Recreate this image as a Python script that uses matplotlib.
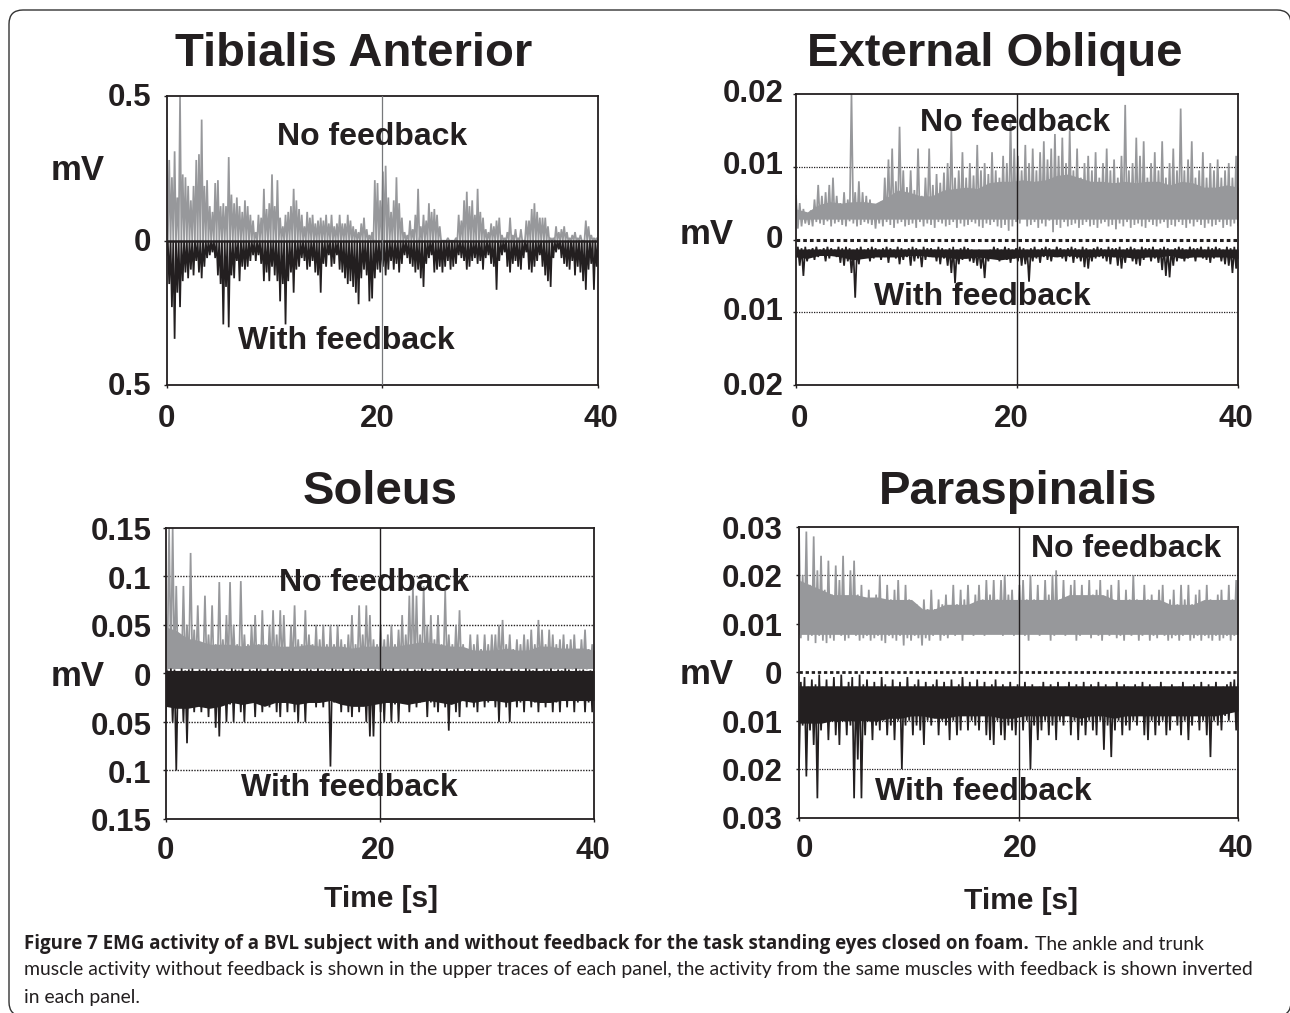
import numpy as np
import matplotlib
matplotlib.use('Agg')
import matplotlib.pyplot as plt
from matplotlib.patches import FancyBboxPatch
from matplotlib.transforms import ScaledTranslation, IdentityTransform

W, H = 1290, 1013
GRAY = '#97989b'
BLACK = '#231f20'

plt.rcParams['font.family'] = ['Liberation Sans', 'DejaVu Sans']

# each trace swings between high and low, read in mV along 0-40 s. Inverted traces are kept positive
ta_none_high = [.39,.28,.22,.31,.15,.50,.23,.22,.19,.14,.19,.28,.30,.42,.19,.21,.12,.10,.20,.21,
    .12,.13,.12,.29,.16,.13,.15,.12,.10,.14,.12,.09,.07,.03,.09,.08,.18,.11,.13,.23,
    .12,.21,.08,.05,.09,.10,.12,.18,.14,.11,.09,.05,.10,.08,.09,.06,.07,.08,.07,.09,
    .06,.09,.05,.06,.09,.06,.06,.09,.07,.05,.04,.03,.06,.08,.04,.02,.03,.21,.20,.14,
    .24,.26,.15,.10,.14,.22,.13,.08,.03,.02,.07,.04,.09,.18,.05,.09,.07,.13,.10,.11,
    .09,.05,.00,.00,.01,.00,.00,.01,.09,.07,.14,.17,.12,.14,.09,.18,.10,.08,.04,.03,
    .06,.05,.07,.08,.02,.01,.03,.08,.02,.04,.01,.04,.00,.07,.07,.11,.13,.10,.08,.08,
    .08,.05,.01,.01,.05,.03,.04,.05,.03,.01,.02,.03,.01,.02,.00,.07,.05,.02,.01,.01]
ta_none_low = [0] * 160
ta_with_high = [.05,.15,.23,.34,.18,.23,.14,.11,.13,.10,.12,.07,.11,.13,.09,.06,.05,.04,.06,.12,
    .15,.29,.16,.30,.12,.13,.07,.14,.09,.10,.09,.07,.05,.07,.05,.08,.14,.11,.14,.09,
    .12,.14,.21,.15,.29,.14,.11,.18,.10,.09,.06,.07,.10,.09,.07,.11,.12,.18,.08,.09,
    .05,.09,.08,.05,.10,.11,.13,.15,.14,.16,.18,.22,.13,.10,.12,.21,.20,.13,.10,.11,
    .09,.12,.10,.07,.10,.08,.11,.08,.05,.06,.08,.09,.11,.10,.13,.16,.08,.06,.05,.11,
    .10,.09,.11,.09,.07,.10,.09,.08,.05,.06,.07,.10,.09,.07,.06,.08,.07,.10,.06,.05,
    .08,.09,.17,.07,.05,.04,.09,.11,.08,.07,.09,.10,.06,.04,.10,.11,.09,.07,.05,.09,
    .12,.14,.16,.06,.04,.03,.06,.08,.09,.10,.07,.12,.09,.11,.14,.17,.10,.08,.17,.09]
ta_with_low = [0] * 160

eo_none_high = [.006,.005,.0042,.0035,.004,.0055,.0075,.006,.0065,.0075,.0085,.006,.005,.0065,.0055,.020,.0065,.008,.0065,.006,
    .0055,.0048,.0045,.0052,.0085,.011,.0125,.008,.0155,.0095,.0072,.0095,.0068,.0125,.006,.0085,.0125,.0075,.009,.0078,
    .0092,.0105,.015,.0085,.0095,.012,.0085,.0105,.0088,.013,.0095,.0105,.009,.012,.0095,.0085,.0115,.0105,.0165,.0125,
    .0115,.0095,.013,.0105,.0125,.0095,.012,.0135,.011,.0125,.0145,.0115,.014,.0105,.015,.0095,.0125,.0085,.0105,.0115,
    .0095,.012,.0085,.0105,.0125,.0095,.011,.0085,.0115,.0185,.0095,.0105,.014,.0115,.0135,.0085,.0105,.012,.0095,.0135,
    .0085,.0105,.0125,.0095,.018,.0095,.011,.0135,.0085,.0095,.012,.0085,.0105,.0095,.011,.0085,.0095,.0105,.0085,.0115]
eo_none_low = [.0015,.0018,.0022,.0020,.0018,.0024,.0022,.0020,.0025,.0018,.0022,.0024,.0020,.0018,.0025,.0022,.0018,.0020,.0024,.0022,
    .0020,.0015,.0022,.0018,.0024,.0020,.0016,.0022,.0024,.0018,.0020,.0022,.0016,.0024,.0018,.0022,.0020,.0016,.0024,.0022,
    .0018,.0020,.0024,.0016,.0022,.0018,.0020,.0024,.0022,.0018,.0016,.0022,.0020,.0024,.0018,.0016,.0020,.0012,.0018,.0024,
    .0022,.0030,.0018,.0020,.0024,.0016,.0022,.0018,.0026,.0010,.0020,.0016,.0024,.0018,.0020,.0022,.0016,.0020,.0024,.0018,
    .0020,.0016,.0022,.0024,.0018,.0020,.0014,.0022,.0018,.0024,.0016,.0020,.0022,.0018,.0016,.0024,.0020,.0018,.0022,.0024,
    .0016,.0020,.0018,.0024,.0020,.0016,.0022,.0018,.0024,.0020,.0016,.0022,.0018,.0020,.0024,.0016,.0020,.0018,.0022,.0020]
eo_none_body = [.0042,.0038,.0048,.0052,.005,.0052,.0052,.005,.0058,.0068,.0065,.006,.006,.0068,.007,.0072,.007,.0078,.008,.008,
    .0082,.008,.0082,.0088,.009,.0085,.008,.008,.0078,.008,.0078,.008,.008,.0075,.008,.0078,.0072,.0072,.0075,.0072]
eo_none_under = .0028
eo_with_high = [.0024,.0036,.0050,.0030,.0020,.0028,.0024,.0022,.0030,.0026,.0020,.0024,.0032,.0036,.0030,.0046,.0080,.0034,
    .0026,.0022,.0030,.0026,.0022,.0028,.0024,.0032,.0022,.0026,.0034,.0028,.0024,.0036,.0030,.0026,.0038,.0028,
    .0024,.0022,.0030,.0034,.0026,.0036,.0046,.0060,.0034,.0028,.0024,.0030,.0032,.0036,.0040,.0053,.0030,.0024,
    .0026,.0030,.0024,.0028,.0032,.0026,.0030,.0036,.0034,.0058,.0030,.0026,.0032,.0024,.0028,.0030,.0024,.0022,
    .0026,.0030,.0024,.0032,.0026,.0030,.0038,.0040,.0030,.0026,.0024,.0026,.0030,.0034,.0024,.0036,.0040,.0032,
    .0024,.0030,.0034,.0036,.0028,.0024,.0030,.0026,.0032,.0042,.0050,.0052,.0036,.0030,.0024,.0030,.0026,.0024,
    .0030,.0022,.0026,.0028,.0032,.0026,.0024,.0030,.0034,.0036,.0046,.0040]
eo_with_low = [.0010,.0012,.0010,.0014,.0012,.0010,.0014,.0012,.0010,.0012,.0014,.0010,.0012,.0010,.0012,.0014,.0012,.0010,
    .0014,.0012,.0010,.0012,.0014,.0012,.0010,.0012,.0014,.0010,.0012,.0014,.0012,.0010,.0012,.0014,.0010,.0012,
    .0012,.0014,.0010,.0012,.0014,.0012,.0010,.0014,.0012,.0010,.0012,.0014,.0016,.0014,.0018,.0016,.0014,.0010,
    .0012,.0014,.0010,.0012,.0014,.0012,.0010,.0012,.0014,.0012,.0010,.0014,.0012,.0010,.0012,.0014,.0010,.0012,
    .0014,.0012,.0010,.0012,.0014,.0010,.0012,.0014,.0012,.0010,.0012,.0014,.0010,.0012,.0012,.0010,.0014,.0012,
    .0010,.0012,.0014,.0010,.0012,.0012,.0010,.0014,.0012,.0010,.0012,.0014,.0012,.0010,.0012,.0014,.0010,.0012,
    .0012,.0010,.0014,.0010,.0012,.0010,.0012,.0014,.0010,.0012,.0010,.0012]
eo_with_body = [.0024,.0026,.0022,.0022,.0024,.0028,.0026,.0024,.0024,.0024,.0022,.0022,.0024,.0024,.0026,.0026,.0024,.0026,.0028,.0026,
    .0024,.0024,.0022,.0024,.0022,.0024,.0024,.0022,.0024,.0024,.0026,.0024,.0024,.0022,.0026,.0024,.0024,.0024,.0024,.0026]
eo_with_under = .0013

so_none_high = [.06,.15,.15,.09,.04,.09,.05,.124,.045,.07,.03,.08,.04,.07,.03,.094,.035,.06,.094,.05,.03,.095,.04,.03,
    .05,.06,.03,.065,.03,.05,.065,.04,.065,.06,.025,.05,.07,.035,.03,.065,.04,.03,.05,.035,.05,.03,.05,.03,
    .05,.035,.03,.04,.06,.03,.07,.04,.07,.06,.035,.03,.05,.035,.04,.05,.03,.045,.06,.04,.08,.09,.08,.04,
    .09,.05,.06,.035,.06,.03,.085,.04,.03,.05,.065,.03,.025,.04,.03,.04,.025,.04,.03,.04,.04,.05,.055,.03,
    .04,.025,.035,.03,.04,.035,.045,.03,.055,.045,.03,.045,.04,.03,.035,.04,.03,.035,.04,.025,.035,.045,.025,.03]
so_none_low = [.003,.005,.006,.005,.006,.005,.004,.006,.005,.004,.005,.006,.005,.004,.006,.005,.005,.004,.006,.005,.004,.005,.006,.004,
    .005,.006,.004,.005,.006,.005,.004,.005,.006,.005,.004,.006,.005,.004,.005,.006,.005,.004,.005,.006,.005,.004,.006,.005,
    .004,.005,.006,.005,.004,.005,.006,.004,.005,.006,.005,.004,.006,.005,.004,.005,.006,.005,.004,.005,.006,.005,.004,.006,
    .005,.004,.005,.006,.004,.005,.006,.005,.004,.005,.006,.004,.005,.004,.006,.005,.004,.005,.004,.006,.005,.004,.005,.006,
    .004,.005,.004,.006,.005,.004,.005,.004,.006,.005,.004,.005,.004,.006,.005,.004,.005,.004,.005,.004,.006,.004,.005,.004]
so_none_body = [.048,.044,.036,.034,.030,.030,.030,.028,.030,.030,.028,.028,.028,.030,.028,.028,.028,.026,.028,.028,
    .028,.028,.030,.032,.032,.030,.028,.028,.024,.024,.024,.026,.024,.024,.028,.028,.026,.026,.026,.024]
so_none_under = .005
so_with_high = [.05,.03,.05,.10,.035,.05,.072,.03,.04,.028,.04,.03,.045,.032,.056,.065,.03,.05,.032,.05,.03,.04,.05,.03,
    .028,.045,.03,.04,.028,.035,.03,.04,.045,.028,.04,.03,.04,.05,.03,.05,.03,.026,.035,.028,.035,.026,.096,.03,
    .03,.04,.028,.04,.045,.03,.04,.03,.05,.065,.065,.03,.04,.05,.03,.05,.032,.05,.03,.028,.04,.03,.035,.03,
    .028,.045,.03,.035,.04,.028,.035,.059,.03,.04,.045,.028,.035,.026,.035,.04,.028,.035,.03,.026,.035,.05,.028,.035,
    .05,.026,.035,.03,.04,.028,.035,.03,.04,.028,.035,.03,.04,.03,.04,.028,.035,.028,.04,.03,.028,.04,.03,.04]
so_with_low = [-.003,-.005,-.004,-.002,-.005,-.003,-.004,-.005,-.002,-.004,-.003,-.005,-.004,-.002,-.005,-.003,-.004,-.002,-.005,-.004,-.003,-.005,-.002,-.004,
    -.003,-.005,-.004,-.002,-.005,-.003,-.004,-.002,-.005,-.003,-.004,-.005,-.002,-.004,-.003,-.005,-.004,-.002,-.005,-.003,-.004,-.002,-.005,-.004,
    -.003,-.005,-.002,-.004,-.005,-.003,-.004,-.002,-.005,-.003,-.004,-.002,-.005,-.004,-.003,-.005,-.002,-.004,-.003,-.005,-.002,-.004,-.003,-.005,
    -.004,-.002,-.005,-.003,-.004,-.002,-.005,-.003,-.004,-.005,-.002,-.004,-.003,-.005,-.002,-.004,-.003,-.005,-.004,-.002,-.005,-.003,-.004,-.002,
    -.005,-.003,-.004,-.002,-.005,-.004,-.003,-.005,-.002,-.004,-.003,-.005,-.002,-.004,-.003,-.005,-.004,-.002,-.005,-.003,-.004,-.002,-.003,-.004]
so_with_body = [.034,.036,.036,.034,.036,.034,.030,.032,.030,.034,.030,.030,.032,.030,.030,.028,.032,.034,.034,.032,
    .030,.030,.032,.030,.028,.030,.032,.028,.030,.028,.028,.030,.028,.028,.030,.030,.028,.028,.028,.028]
so_with_under = -.003

pa_none_high = [.030,.020,.029,.018,.028,.021,.024,.017,.023,.016,.022,.019,.024,.015,.021,.023,.016,.018,
    .014,.017,.015,.016,.020,.014,.018,.015,.017,.019,.014,.018,.015,.013,.014,.012,.015,.013,
    .017,.013,.015,.014,.016,.013,.018,.014,.017,.015,.018,.014,.016,.018,.015,.019,.016,.019,
    .015,.019,.020,.016,.017,.014,.018,.019,.015,.020,.015,.018,.014,.019,.016,.020,.021,.015,
    .019,.015,.018,.019,.015,.018,.014,.019,.016,.017,.019,.014,.017,.018,.014,.019,.014,.017,
    .015,.020,.015,.014,.018,.015,.016,.014,.017,.018,.014,.015,.017,.014,.018,.015,.018,.014,
    .016,.017,.014,.018,.015,.014,.016,.017,.014,.018,.015,.019]
pa_none_low = [.007,.008,.0065,.0075,.006,.0075,.0065,.006,.007,.0065,.008,.0075,.0065,.007,.008,.0075,.0065,.007,
    .0075,.0065,.007,.0075,.0065,.006,.0075,.007,.0065,.0075,.0055,.007,.0065,.0075,.007,.0055,.007,.0065,
    .0075,.0085,.0065,.0075,.007,.0085,.0075,.008,.0065,.008,.0085,.0075,.0085,.008,.0075,.009,.0085,.008,
    .0085,.0075,.009,.0085,.0075,.008,.0085,.0075,.0065,.008,.0085,.0075,.008,.0085,.0065,.0075,.008,.0085,
    .0075,.0085,.008,.0065,.0075,.008,.0085,.007,.008,.0075,.0065,.008,.0075,.0085,.007,.0075,.0065,.008,
    .0075,.0085,.0065,.0075,.008,.0065,.0075,.007,.008,.0075,.0065,.007,.0075,.0065,.0075,.008,.0065,.007,
    .0075,.0065,.0075,.007,.0065,.0075,.0065,.007,.0075,.0065,.0075,.008]
pa_none_body = [.019,.018,.017,.016,.016,.016,.0155,.0155,.015,.015,.015,.013,.013,.014,.014,.014,.015,.015,.015,.015,
    .015,.015,.015,.015,.016,.016,.016,.016,.015,.015,.015,.015,.015,.014,.014,.014,.015,.015,.015,.015]
pa_none_under = .0078
pa_with_high = [.0195,.011,.0215,.012,.015,.026,.012,.010,.014,.010,.013,.015,.010,.013,.011,.026,.018,.026,
    .013,.010,.014,.011,.012,.010,.013,.011,.014,.010,.020,.011,.010,.013,.011,.012,.015,.010,
    .011,.009,.013,.010,.011,.014,.010,.013,.012,.009,.012,.010,.011,.012,.009,.013,.014,.015,
    .010,.013,.014,.011,.012,.013,.009,.012,.010,.020,.011,.014,.012,.010,.013,.011,.014,.010,
    .011,.009,.013,.010,.014,.011,.013,.010,.012,.013,.010,.016,.011,.0175,.012,.010,.013,.011,
    .012,.010,.011,.009,.013,.014,.010,.013,.011,.010,.013,.012,.009,.011,.013,.010,.014,.011,
    .009,.012,.010,.013,.0175,.010,.011,.012,.009,.010,.008,.012]
pa_with_low = [.0020,.0010,.0030,.0015,.0025,.0005,.0030,.0015,.0040,.0010,.0030,.0005,.0035,.0020,.0010,.0030,.0005,.0025,
    .0015,.0035,.0020,.0030,.0010,.0025,.0040,.0015,.0030,.0020,.0035,.0010,.0030,.0025,.0015,.0035,.0020,.0030,
    .0025,.0015,.0035,.0020,.0030,.0015,.0040,.0025,.0010,.0030,.0020,.0035,.0015,.0030,.0020,.0035,.0025,.0015,
    .0035,.0025,.0040,.0020,.0030,.0025,.0035,.0020,.0030,.0025,.0040,.0030,.0020,.0035,.0025,.0030,.0020,.0040,
    .0030,.0020,.0035,.0025,.0030,.0020,.0040,.0025,.0030,.0020,.0035,.0025,.0040,.0030,.0020,.0035,.0025,.0030,
    .0040,.0025,.0030,.0020,.0035,.0025,.0040,.0030,.0020,.0030,.0035,.0025,.0040,.0030,.0020,.0035,.0030,.0025,
    .0030,.0020,.0035,.0025,.0030,.0020,.0035,.0030,.0025,.0020,.0015,.0025]
pa_with_body = [.0105,.0105,.0105,.010,.010,.010,.010,.010,.0095,.0095,.009,.009,.0095,.0095,.009,.009,.009,.009,.0095,.0095,
    .009,.009,.009,.009,.009,.0095,.009,.009,.0095,.009,.009,.009,.009,.009,.009,.009,.009,.009,.0085,.008]
pa_with_under = .0028

titles = ['Tibialis Anterior', 'External Oblique', 'Soleus', 'Paraspinalis']
x_ticks = [0, 20, 40]
ta_yticks = [0.5, 0, -0.5]
ta_ylabels = ['0.5', '0', '0.5']
eo_yticks = [0.02, 0.01, 0, -0.01, -0.02]
eo_ylabels = ['0.02', '0.01', '0', '0.01', '0.02']
so_yticks = [0.15, 0.1, 0.05, 0, -0.05, -0.1, -0.15]
so_ylabels = ['0.15', '0.1', '0.05', '0', '0.05', '0.1', '0.15']
pa_yticks = [0.03, 0.02, 0.01, 0, -0.01, -0.02, -0.03]
pa_ylabels = ['0.03', '0.02', '0.01', '0', '0.01', '0.02', '0.03']

caption_bold = 'Figure 7 EMG activity of a BVL subject with and without feedback for the task standing eyes closed on foam.'
caption_line1 = 'The ankle and trunk'
caption_line2 = 'muscle activity without feedback is shown in the upper traces of each panel, the activity from the same muscles with feedback is shown inverted'
caption_line3 = 'in each panel.'

fig = plt.figure(figsize=(W / 100, H / 100), dpi=100)


def px_text(x, y, s, **kw):
    return fig.text(x / W, 1 - y / H, s, color=BLACK, **kw)


def shift(label, dx, dy):
    # move one tick label by some pixels, the source figure has them off centre
    label.set_transform(label.get_transform() + ScaledTranslation(dx / 100, -dy / 100, fig.dpi_scale_trans))


def make_axes(left, right, top, bottom, ylim, yticks, ylabels, pad_x, pad_y, x_dx, y_dy):
    ax = fig.add_axes([left / W, 1 - bottom / H, (right - left) / W, (bottom - top) / H])
    ax.set_xlim(0, 40)
    ax.set_ylim(-ylim, ylim)
    ax.set_xticks(x_ticks)
    ax.set_yticks(yticks)
    ax.set_yticklabels(ylabels)
    ax.tick_params(axis='x', length=2, width=1, color=BLACK, labelsize=22.5, pad=pad_x, labelcolor=BLACK)
    ax.tick_params(axis='y', length=2, width=1, color=BLACK, labelsize=22.5, pad=pad_y, labelcolor=BLACK)
    for lab, dx in zip(ax.get_xticklabels(), x_dx):
        lab.set_fontweight('bold')
        shift(lab, dx, 0)
    for lab, dy in zip(ax.get_yticklabels(), y_dy):
        lab.set_fontweight('bold')
        shift(lab, 0, dy)
    for s in ax.spines.values():
        s.set_linewidth(1.3)
        s.set_color(BLACK)
    return ax


def draw_trace(ax, high, low, sign, color, body=None, under=0):
    n = len(high)
    t = np.linspace(0, 40, 2 * n)
    y = np.empty(2 * n)
    y[0::2] = high
    y[1::2] = low
    ax.plot(t, sign * y, color=color, lw=1.25, solid_joinstyle='miter', zorder=2)
    if body is not None:
        # solid part of the dense traces
        ax.fill_between(np.linspace(0, 40, len(body)), sign * under, sign * np.array(body), color=color, lw=0, zorder=2)


def guides(ax, levels, color=BLACK, lw=0.9):
    for lev in levels:
        ax.axhline(lev, color=color, lw=lw, ls=(0, (1, 1)), zorder=1)


# Tibialis Anterior
ax = make_axes(166.5, 598, 96.5, 385, 0.5, ta_yticks, ta_ylabels, 12, 9, [0, -5, 3], [-2, -1, -2])
draw_trace(ax, ta_none_high, ta_none_low, 1, GRAY)
draw_trace(ax, ta_with_high, ta_with_low, -1, BLACK)
ax.axhline(0, color=BLACK, lw=1.8, zorder=3)
ax.axvline(20, color='#77787b', lw=0.9, zorder=3)

# External Oblique
ax = make_axes(796, 1238, 94, 385, 0.02, eo_yticks, eo_ylabels, 12, 7, [3, -6, -2], [-4, -4, -3, -4, -2])
guides(ax, [0.01, -0.01])
ax.axhline(0, color=BLACK, lw=2.2, ls=(0, (1.2, 1.0)), zorder=1)
draw_trace(ax, eo_none_high, eo_none_low, 1, GRAY, eo_none_body, eo_none_under)
draw_trace(ax, eo_with_high, eo_with_low, -1, BLACK, eo_with_body, eo_with_under)
ax.axvline(20, color=BLACK, lw=1, zorder=3)

# Soleus
ax = make_axes(165.5, 594, 527.7, 819, 0.15, so_yticks, so_ylabels, 10, 8, [0, -1, -1], [1, 1, 1, 1, 2, 1, 0])
guides(ax, [0.1, 0.05, -0.05, -0.1], lw=1.0)
draw_trace(ax, so_none_high, so_none_low, 1, GRAY, so_none_body, so_none_under)
draw_trace(ax, so_with_high, so_with_low, -1, BLACK, so_with_body, so_with_under)
ax.axvline(20, color=BLACK, lw=1, zorder=3)

# Paraspinalis
ax = make_axes(799, 1238, 526.7, 817.7, 0.03, pa_yticks, pa_ylabels, 10, 10, [5, 2, -2], [1, 0, 1, 0, 1, 0, 0])
guides(ax, [0.02, -0.01, -0.02])
ax.axhline(0, color=BLACK, lw=2.0, ls=(0, (1.2, 1.0)), zorder=1)
draw_trace(ax, pa_none_high, pa_none_low, 1, GRAY, pa_none_body, pa_none_under)
draw_trace(ax, pa_with_high, pa_with_low, -1, BLACK, pa_with_body, pa_with_under)
ax.axvline(20, color=BLACK, lw=1, zorder=3)

# titles and labels
for (x, y), name in zip([(354, 54), (995, 54), (380, 492), (1018, 492)], titles):
    px_text(x, y, name, fontsize=34, fontweight='bold', ha='center', va='center')
for x, y in [(78, 170), (707, 234), (78, 676), (707, 674)]:
    px_text(x, y, 'mV', fontsize=25, fontweight='bold', ha='center', va='center')
for x, y in [(372, 137), (1015, 123), (374, 583), (1126, 549)]:
    t = px_text(x, y, 'No feedback', fontsize=23, fontweight='bold', ha='center', va='center')
    t.set_zorder(5)
for x, y in [(346, 341), (982, 297), (349, 788), (983, 792)]:
    t = px_text(x, y, 'With feedback', fontsize=23, fontweight='bold', ha='center', va='center')
    t.set_zorder(5)
for x, y in [(381, 899), (1021, 901)]:
    px_text(x, y, 'Time [s]', fontsize=21.5, fontweight='bold', ha='center', va='center')

# frame of the page in pixels, it runs off the right and bottom edges
frame = FancyBboxPatch((9, H - 1016), 1282, 1006, boxstyle='round,pad=0,rounding_size=14',
                       transform=IdentityTransform(), fc='none', ec='#333333', lw=1.0)
fig.add_artist(frame)

# caption
reg_kw = dict(family=['Lato', 'DejaVu Sans'], fontsize=13.95, va='center')
bold = px_text(24, 944, caption_bold, family=['Open Sans', 'DejaVu Sans'], fontsize=13.5, fontweight='bold', va='center')
renderer = fig.canvas.get_renderer()
end_x = bold.get_window_extent(renderer).x1
px_text(end_x + 6, 944, caption_line1, **reg_kw)
px_text(24, 970, caption_line2, **reg_kw)
px_text(24, 997, caption_line3, **reg_kw)

fig.savefig('out.png', dpi=100)
